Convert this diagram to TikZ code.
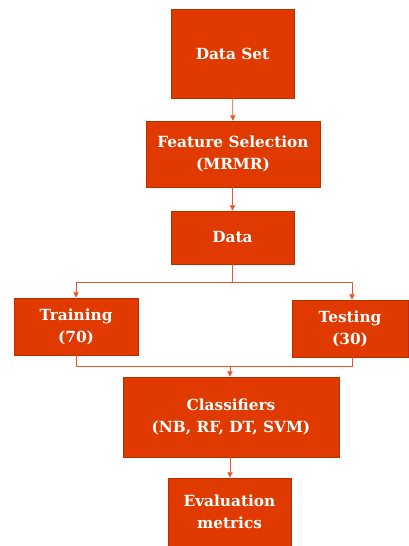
\documentclass[tikz,border=0pt]{standalone}
\usepackage{fontspec}
\setmainfont{DejaVu Serif}
\usetikzlibrary{arrows.meta}
\definecolor{boxfill}{HTML}{E03A00}
\definecolor{boxline}{HTML}{B83000}
\definecolor{conn}{HTML}{E85528}
\begin{document}
\begin{tikzpicture}[x=0.75pt,y=-0.75pt,
  box/.style={draw=boxline,fill=boxfill,line width=0.6pt,text=white,font=\bfseries\fontsize{11.5}{16.5}\selectfont,align=center,inner sep=0pt},
  conn/.style={draw=conn,line width=0.6pt},
  arr/.style={conn,-{Triangle[length=4pt,width=4pt]}}]
\useasboundingbox (0,0) rectangle (408,546);
\node[box,minimum width=123*0.75pt,minimum height=89*0.75pt] (ds) at (232.5,53.5) {Data Set};
\node[box,minimum width=174*0.75pt,minimum height=66*0.75pt] (fs) at (233,154) {Feature Selection\\(MRMR)};
\node[box,minimum width=123*0.75pt,minimum height=53*0.75pt] (da) at (232.5,237.5) {Data};
\node[box,minimum width=124*0.75pt,minimum height=57*0.75pt] (tr) at (76,326.5) {Training\\(70)};
\node[box,minimum width=116*0.75pt,minimum height=57*0.75pt] (te) at (350,328.5) {Testing\\(30)};
\node[box,minimum width=216*0.75pt,minimum height=80*0.75pt] (cl) at (231,417) {Classifiers\\(NB, RF, DT, SVM)};
\node[box,minimum width=123*0.75pt,minimum height=68*0.75pt] (ev) at (229.5,512) {Evaluation\\metrics};
\coordinate (b1) at (232.5,282);
\coordinate (b2) at (230,366.5);
\draw[arr] (ds) -- (fs);
\draw[arr] (fs.south -| ds) -- (da);
\draw[conn] (da) -- (b1);
\draw[arr] (b1) -| (tr);
\draw[arr] (b1) -| (te.north -| 352,0);
\draw[conn] (tr) |- (b2);
\draw[conn] (te.south -| 352,0) |- (b2);
\draw[arr] (b2) -- (cl.north -| b2);
\draw[arr] (cl.south -| b2) -- (ev.north -| b2);
\end{tikzpicture}
\end{document}
